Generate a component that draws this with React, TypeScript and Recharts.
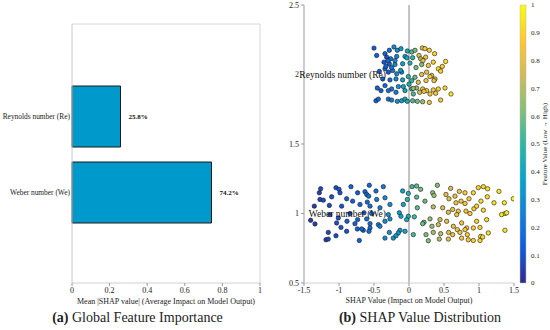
import React from "react";
import {
  BarChart,
  Bar,
  ScatterChart,
  Scatter,
  XAxis,
  YAxis,
  LabelList,
  ReferenceLine,
  ReferenceDot,
} from "recharts";

const FONT = "'Liberation Serif', 'Times New Roman', serif";

// panel (a)
const features = ["Reynolds number (Re)", "Weber number (We)"];
const meanAbsShap = [0.258, 0.742];
const shareLabels = ["25.8%", "74.2%"];
const importanceTicks = [0, 0.2, 0.4, 0.6, 0.8, 1];

// panel (b)
const shapTicks = [-1.5, -1, -0.5, 0, 0.5, 1, 1.5];
const rowTicks = [0.5, 1, 1.5, 2, 2.5];
const rowPositions = [2, 1];
const colorbarTicks = [0, 0.1, 0.2, 0.3, 0.4, 0.5, 0.6, 0.7, 0.8, 0.9, 1];

// [shap value, row position, feature value]
const reynoldsPoints: number[][] = [
  [-0.5, 2.19, 0.12], [-0.343, 2.15, 0.15], [-0.281, 2.174, 0.18], [-0.215, 2.198, 0.3],
  [-0.167, 2.174, 0.28], [-0.115, 2.186, 0.35], [-0.024, 2.169, 0.42], [0.038, 2.162, 0.55],
  [0.085, 2.174, 0.6], [0.19, 2.191, 0.82], [0.228, 2.186, 0.85], [0.29, 2.174, 0.88],
  [0.366, 2.15, 0.9], [0.143, 2.137, 0.78], [-0.462, 2.137, 0.14], [-0.319, 2.125, 0.1],
  [-0.262, 2.113, 0.2], [-0.176, 2.13, 0.25], [-0.057, 2.13, 0.38], [0.052, 2.121, 0.5],
  [0.166, 2.113, 0.72], [0.238, 2.125, 0.86], [0.347, 2.089, 0.9], [0.523, 2.094, 0.93],
  [-0.357, 2.089, 0.12], [-0.281, 2.077, 0.16], [-0.2, 2.072, 0.28], [-0.091, 2.077, 0.36],
  [0.014, 2.082, 0.45], [0.181, 2.072, 0.62], [0.276, 2.065, 0.85], [0.419, 2.041, 0.92],
  [0.476, 2.058, 0.88], [-0.424, 2.022, 0.1], [-0.343, 2.041, 0.14], [-0.295, 2.017, 0.11],
  [-0.234, 2.029, 0.22], [-0.176, 2.005, 0.26], [-0.105, 2.017, 0.33], [-0.01, 1.985, 0.44],
  [0.085, 1.98, 0.58], [0.181, 2.0, 0.82], [0.252, 2.017, 0.84], [0.324, 1.993, 0.87],
  [0.371, 1.968, 0.82], [0.452, 2.024, 0.9], [-0.376, 1.968, 0.13], [-0.272, 1.961, 0.18],
  [-0.186, 1.968, 0.27], [-0.091, 1.961, 0.35], [0.038, 1.956, 0.5], [0.133, 1.944, 0.8],
  [0.243, 1.956, 0.86], [0.3, 1.985, 0.88], [0.357, 1.956, 0.84], [-0.453, 1.903, 0.15],
  [-0.343, 1.92, 0.17], [-0.248, 1.896, 0.2], [-0.152, 1.913, 0.3], [-0.057, 1.884, 0.4],
  [0.038, 1.896, 0.52], [0.109, 1.903, 0.62], [0.195, 1.896, 0.83], [0.252, 1.884, 0.85],
  [0.347, 1.889, 0.88], [0.419, 1.896, 0.9], [0.514, 1.903, 0.92], [0.6, 1.86, 0.95],
  [-0.4, 1.884, 0.12], [-0.295, 1.884, 0.19], [-0.186, 1.872, 0.24], [-0.081, 1.913, 0.37],
  [0.062, 1.86, 0.55], [0.152, 1.872, 0.78], [0.214, 1.879, 0.85], [0.3, 1.86, 0.87],
  [0.381, 1.865, 0.86], [-0.472, 1.811, 0.14], [-0.438, 1.823, 0.16], [-0.295, 1.823, 0.18],
  [-0.248, 1.816, 0.22], [-0.167, 1.807, 0.3], [-0.105, 1.811, 0.35], [-0.057, 1.823, 0.4],
  [-0.024, 1.807, 0.43], [0.052, 1.811, 0.55], [0.119, 1.807, 0.6], [0.195, 1.804, 0.65],
  [0.29, 1.799, 0.85], [0.452, 1.816, 0.88], [-0.33, 2.06, 0.15], [-0.3, 2.1, 0.17],
  [-0.25, 2.05, 0.2], [-0.2, 2.1, 0.26], [-0.12, 2.03, 0.33], [0.0, 1.93, 0.46],
  [0.1, 2.05, 0.6], [0.06, 1.9, 0.64], [-0.03, 2.12, 0.4], [0.2, 2.1, 0.8],
];

const weberPoints: number[][] = [
  [-1.262, 1.178, 0.08], [-1.043, 1.186, 0.1], [-1.0, 1.174, 0.12], [-0.829, 1.193, 0.14],
  [-0.567, 1.203, 0.16], [-0.367, 1.193, 0.22], [0.043, 1.193, 0.52], [0.109, 1.198, 0.56],
  [0.166, 1.174, 0.6], [0.405, 1.203, 0.62], [0.595, 1.181, 0.78], [0.719, 1.159, 0.85],
  [0.8, 1.149, 0.88], [0.99, 1.186, 0.9], [1.062, 1.193, 0.92], [1.123, 1.178, 0.93],
  [1.285, 1.159, 0.95], [-1.281, 1.149, 0.06], [-0.986, 1.149, 0.1], [-0.734, 1.149, 0.13],
  [-0.629, 1.157, 0.15], [-0.472, 1.162, 0.2], [-0.091, 1.162, 0.38], [-0.01, 1.145, 0.45],
  [0.338, 1.149, 0.62], [0.528, 1.137, 0.8], [0.919, 1.149, 0.9], [-1.272, 1.101, 0.07],
  [-1.224, 1.096, 0.09], [-1.105, 1.12, 0.1], [-0.891, 1.106, 0.12], [-0.805, 1.089, 0.14],
  [-0.605, 1.137, 0.18], [-0.576, 1.125, 0.2], [-0.462, 1.101, 0.22], [-0.343, 1.113, 0.28],
  [-0.024, 1.101, 0.48], [0.109, 1.118, 0.55], [0.228, 1.089, 0.58], [0.357, 1.13, 0.66],
  [0.571, 1.106, 0.82], [0.657, 1.125, 0.84], [0.743, 1.089, 0.86], [0.857, 1.106, 0.88],
  [1.028, 1.089, 0.92], [1.119, 1.12, 0.93], [1.214, 1.077, 0.94], [1.362, 1.077, 0.96],
  [1.49, 1.106, 0.97], [-0.596, 1.082, 0.17], [0.671, 1.077, 0.84], [0.8, 1.072, 0.87],
  [-1.353, 1.053, 0.05], [-1.138, 1.058, 0.08], [-0.962, 1.053, 0.11], [-0.7, 1.065, 0.15],
  [-0.557, 1.053, 0.19], [-0.415, 1.041, 0.24], [-0.272, 1.065, 0.3], [-0.081, 1.065, 0.4],
  [0.119, 1.041, 0.56], [0.347, 1.048, 0.7], [0.481, 1.041, 0.78], [0.624, 1.029, 0.82],
  [0.704, 1.017, 0.85], [0.928, 1.034, 0.9], [1.062, 1.024, 0.92], [1.371, 1.0, 0.96],
  [1.395, 1.005, 0.97], [-1.129, 0.992, 0.09], [-0.843, 1.0, 0.12], [-0.643, 1.005, 0.16],
  [-0.534, 1.0, 0.2], [-0.295, 0.992, 0.3], [-0.138, 1.005, 0.35], [-0.01, 0.98, 0.45],
  [0.562, 1.009, 0.8], [0.814, 1.017, 0.87], [0.966, 1.053, 0.9], [0.871, 1.0, 0.88],
  [-1.405, 0.951, 0.05], [-1.343, 0.925, 0.06], [-1.01, 0.968, 0.1], [-0.886, 0.944, 0.12],
  [-0.734, 0.956, 0.14], [-0.605, 0.961, 0.18], [-0.438, 0.92, 0.25], [-0.343, 0.944, 0.28],
  [-0.272, 0.961, 0.3], [-0.115, 0.98, 0.38], [-0.034, 0.956, 0.42], [0.076, 0.976, 0.52],
  [0.214, 0.937, 0.6], [0.3, 0.961, 0.64], [0.443, 0.956, 0.75], [0.538, 0.944, 0.8],
  [0.681, 0.992, 0.84], [0.752, 0.932, 0.86], [0.966, 0.944, 0.9], [1.109, 0.956, 0.92],
  [1.323, 0.992, 0.95], [-1.034, 0.932, 0.1], [-0.772, 0.927, 0.13], [-0.557, 0.927, 0.18],
  [-0.972, 0.9, 0.1], [-0.891, 0.872, 0.11], [-0.738, 0.889, 0.14], [-0.653, 0.879, 0.15],
  [-0.557, 0.896, 0.17], [-0.415, 0.908, 0.24], [-0.129, 0.879, 0.36], [-0.057, 0.872, 0.4],
  [0.195, 0.927, 0.58], [0.328, 0.908, 0.66], [0.419, 0.92, 0.75], [0.633, 0.908, 0.82],
  [0.69, 0.884, 0.85], [0.824, 0.896, 0.87], [0.919, 0.896, 0.89], [1.014, 0.9, 0.91],
  [-1.153, 0.864, 0.07], [-1.043, 0.84, 0.09], [-0.676, 0.889, 0.15], [-0.572, 0.872, 0.18],
  [-0.281, 0.864, 0.3], [-0.153, 0.86, 0.34], [0.062, 0.848, 0.52], [0.243, 0.848, 0.62],
  [0.347, 0.864, 0.68], [0.452, 0.855, 0.72], [0.566, 0.864, 0.8], [0.624, 0.848, 0.83],
  [0.728, 0.864, 0.86], [0.8, 0.884, 0.87], [0.833, 0.848, 0.88], [1.023, 0.835, 0.91],
  [1.133, 0.86, 0.93], [1.371, 0.879, 0.96], [-1.186, 0.811, 0.06], [-1.153, 0.816, 0.07],
  [-0.71, 0.806, 0.14], [-0.343, 0.823, 0.27], [-0.224, 0.823, 0.32], [-0.186, 0.84, 0.33],
  [0.276, 0.804, 0.62], [0.433, 0.816, 0.7], [0.562, 0.816, 0.8], [0.752, 0.823, 0.86],
  [0.847, 0.811, 0.88], [0.919, 0.806, 0.9], [1.014, 0.806, 0.91], [1.052, 0.831, 0.92],
];

// parula colormap stops (0 .. 1, evenly spaced)
const parulaStops = [
  "#352A87", "#0F5CDD", "#1481D6", "#06A4CA", "#2EB7A4",
  "#87BF77", "#D1BB59", "#FEC832", "#F9FB0E",
];

const hexToRgb = (h: string) => [1, 3, 5].map((i) => parseInt(h.slice(i, i + 2), 16));

function parula(v: number) {
  const t = Math.max(0, Math.min(1, v)) * (parulaStops.length - 1);
  const i = Math.min(Math.floor(t), parulaStops.length - 2);
  const a = hexToRgb(parulaStops[i]);
  const b = hexToRgb(parulaStops[i + 1]);
  const k = t - i;
  const c = a.map((av, j) => Math.round(av + (b[j] - av) * k));
  return `rgb(${c[0]},${c[1]},${c[2]})`;
}

const barData = features.map((name, i) => ({
  name,
  value: meanAbsShap[i],
  label: shareLabels[i],
}));

const toRows = (pts: number[][]) => pts.map(([x, y, f]) => ({ x, y, f }));
const reynoldsData = toRows(reynoldsPoints);
const weberData = toRows(weberPoints);
const colorbarData = [{ name: "scale", top: 1 }];

const tickStyle = { fontSize: 8, fill: "#222", fontFamily: FONT };

const renderDot = (props: any) => {
  if (props.cx == null || props.cy == null) return <g />;
  return (
    <circle
      cx={props.cx}
      cy={props.cy}
      r={2.2}
      fill={parula(props.payload.f)}
      stroke="#1a1a1a"
      strokeWidth={0.6}
    />
  );
};

const FeatureTick = (props: any) => (
  <text
    x={props.x}
    y={props.y}
    dy={3}
    textAnchor="end"
    fontSize={7.4}
    fill="#222"
    fontFamily={FONT}
  >
    {props.payload.value}
  </text>
);

export default function App() {
  return (
    <div
      style={{
        position: "absolute",
        left: 0,
        top: 0,
        width: 550,
        height: 330,
        background: "#fff",
        overflow: "hidden",
        fontFamily: FONT,
      }}
    >
      <svg width={1} height={1} style={{ position: "absolute", left: 0, top: 0 }}>
        <defs>
          <linearGradient id="parula" x1="0" y1="1" x2="0" y2="0">
            {parulaStops.map((c, i) => (
              <stop key={c} offset={i / (parulaStops.length - 1)} stopColor={c} />
            ))}
          </linearGradient>
        </defs>
      </svg>

      {/* (a) global feature importance */}
      <div style={{ position: "absolute", left: 0, top: 0 }}>
        <BarChart
          layout="vertical"
          width={270}
          height={330}
          data={barData}
          margin={{ top: 23, right: 9, bottom: 27, left: 0 }}
        >
          <XAxis
            type="number"
            domain={[0, 1]}
            ticks={importanceTicks}
            height={20}
            tickSize={3}
            tickMargin={1}
            tickLine={{ stroke: "#999" }}
            axisLine={{ stroke: "#d0d0d0" }}
            tick={tickStyle}
            label={{
              value: "Mean |SHAP value| (Average Impact on Model Output)",
              position: "insideBottom",
              offset: -1,
              fontSize: 8,
              fill: "#222",
              fontFamily: FONT,
            }}
          />
          <XAxis
            xAxisId="top"
            orientation="top"
            type="number"
            domain={[0, 1]}
            ticks={importanceTicks}
            height={1}
            tick={false}
            axisLine={{ stroke: "#d6d6d6" }}
          />
          <YAxis
            type="category"
            dataKey="name"
            width={72}
            padding={{ top: 54, bottom: 53 }}
            tickSize={0}
            tickMargin={2}
            axisLine={{ stroke: "#c8c8c8" }}
            tick={<FeatureTick />}
          />
          <YAxis
            yAxisId="right"
            orientation="right"
            type="category"
            dataKey="name"
            width={1}
            padding={{ top: 54, bottom: 53 }}
            tick={false}
            axisLine={{ stroke: "#d6d6d6" }}
          />
          <Bar
            dataKey="value"
            barSize={61}
            fill="#0099cc"
            stroke="#1a1a1a"
            strokeWidth={1}
            isAnimationActive={false}
          >
            <LabelList
              dataKey="label"
              position="right"
              offset={8}
              style={{ fontSize: 7, fontWeight: "bold", fill: "#111", fontFamily: FONT }}
            />
          </Bar>
        </BarChart>
      </div>

      {/* (b) SHAP value distribution */}
      <div style={{ position: "absolute", left: 270, top: 0 }}>
        <ScatterChart
          width={250}
          height={330}
          margin={{ top: 5, right: 6, bottom: 27, left: 0 }}
        >
          <XAxis
            type="number"
            dataKey="x"
            domain={[-1.5, 1.5]}
            ticks={shapTicks}
            height={20}
            tickSize={3}
            tickMargin={1}
            tickLine={{ stroke: "#999" }}
            axisLine={{ stroke: "#d0d0d0" }}
            tick={tickStyle}
            allowDataOverflow
            label={{
              value: "SHAP Value (Impact on Model Output)",
              position: "insideBottom",
              offset: 0,
              fontSize: 8,
              fill: "#222",
              fontFamily: FONT,
            }}
          />
          <YAxis
            type="number"
            dataKey="y"
            domain={[0.5, 2.5]}
            ticks={rowTicks}
            width={34}
            tickSize={3}
            tickLine={{ stroke: "#999" }}
            axisLine={{ stroke: "#bdbdbd", strokeWidth: 1.5 }}
            tick={tickStyle}
            allowDataOverflow
          />
          <ReferenceLine x={0} stroke="#c4c4c4" strokeWidth={2} />
          <Scatter data={reynoldsData} shape={renderDot} isAnimationActive={false} />
          <Scatter data={weberData} shape={renderDot} isAnimationActive={false} />
          {features.map((name, i) => (
            <ReferenceDot
              key={name}
              x={-0.33}
              y={rowPositions[i]}
              r={0}
              fill="none"
              stroke="none"
              label={{
                value: name,
                position: "left",
                offset: 0,
                fontSize: 9.5,
                fill: "#111",
                fontFamily: FONT,
              }}
            />
          ))}
        </ScatterChart>
      </div>

      {/* colorbar */}
      <div style={{ position: "absolute", left: 510, top: 0 }}>
        <BarChart
          width={40}
          height={330}
          data={colorbarData}
          barCategoryGap={0}
          margin={{ top: 5, right: 0, bottom: 47, left: 10 }}
        >
          <XAxis type="category" dataKey="name" hide />
          <YAxis
            type="number"
            orientation="right"
            domain={[0, 1]}
            ticks={colorbarTicks}
            width={24}
            tickSize={0}
            tickMargin={5}
            axisLine={false}
            tick={{ fontSize: 7, fill: "#222", fontFamily: FONT }}
            label={{
              value: "Feature Value (Low → High)",
              angle: -90,
              position: "insideRight",
              offset: 5,
              fontSize: 7,
              fill: "#222",
              fontFamily: FONT,
              style: { textAnchor: "middle" },
            }}
          />
          <Bar
            dataKey="top"
            fill="url(#parula)"
            stroke="#bbb"
            strokeWidth={0.5}
            isAnimationActive={false}
          />
        </BarChart>
      </div>

      <div
        style={{
          position: "absolute",
          left: 0,
          top: 309,
          width: 275,
          textAlign: "center",
          fontSize: 14,
          lineHeight: "17px",
          color: "#222",
        }}
      >
        <b>(a)</b> Global Feature Importance
      </div>
      <div
        style={{
          position: "absolute",
          left: 290,
          top: 309,
          width: 260,
          textAlign: "center",
          fontSize: 14,
          lineHeight: "17px",
          color: "#222",
        }}
      >
        <b>(b)</b> SHAP Value Distribution
      </div>
    </div>
  );
}
